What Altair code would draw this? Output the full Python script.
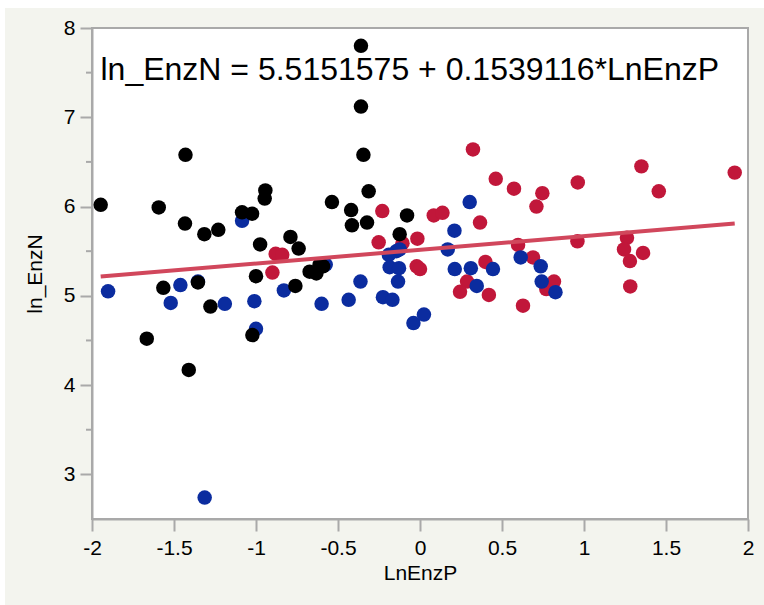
import altair as alt
import pandas as pd

# ---- data ----
black_x = [-0.36, -0.36, -1.43, -0.345, -0.943, -0.947, -0.313, -1.947, -1.593, -0.537,
           -0.42, -1.085, -1.024, -0.079, -1.433, -0.415, -0.323, -1.315, -1.23, -0.124,
           -0.79, -0.74, -0.975, -1.565, -1.354, -1.278, -1.022, -1.666, -1.41, -1.0,
           -0.76, -0.673, -0.632, -0.612, -0.591]
black_y = [7.80, 7.12, 6.58, 6.58, 6.18, 6.09, 6.17, 6.02, 5.99, 6.05,
           5.96, 5.935, 5.92, 5.90, 5.81, 5.79, 5.82, 5.69, 5.74, 5.69,
           5.66, 5.53, 5.575, 5.09, 5.15, 4.88, 4.56, 4.52, 4.17, 5.22,
           5.11, 5.27, 5.25, 5.35, 5.33]

blue_x = [-1.902, -1.461, -1.52, -1.354, -1.19, -1.01, -1.0, -1.085, -1.313, -0.83,
          -0.575, -0.60, -0.435, -0.363, -0.226, -0.168, -0.19, -0.144, -0.124, -0.185,
          -0.128, -0.134, -0.04, 0.024, 0.303, 0.21, 0.169, 0.212, 0.31, 0.445,
          0.346, 0.614, 0.736, 0.742, 0.826]
blue_y = [5.05, 5.12, 4.92, 5.16, 4.91, 4.94, 4.63, 5.84, 2.74, 5.06,
          5.35, 4.91, 4.955, 5.16, 4.985, 4.955, 5.46, 5.50, 5.52, 5.32,
          5.31, 5.16, 4.695, 4.79, 6.05, 5.73, 5.52, 5.30, 5.31, 5.30,
          5.11, 5.43, 5.33, 5.16, 5.04]

red_x = [-0.23, -0.252, -0.107, -0.016, 0.084, 0.137, 0.366, 0.323, 0.462, 0.573,
         0.746, 0.71, 0.962, 1.35, 1.456, 1.919, 0.96, 0.598, 0.689, 1.262,
         1.244, 1.36, 1.28, 1.282, 0.399, 0.287, 0.244, 0.42, 0.628, 0.817,
         0.77, -0.02, 0.0, -0.90, -0.88, -0.84]
red_y = [5.95, 5.60, 5.59, 5.64, 5.90, 5.93, 5.82, 6.64, 6.31, 6.20,
         6.15, 6.00, 6.27, 6.45, 6.17, 6.38, 5.61, 5.57, 5.43, 5.65,
         5.52, 5.48, 5.39, 5.105, 5.38, 5.16, 5.045, 5.01, 4.89, 5.16,
         5.075, 5.33, 5.30, 5.26, 5.47, 5.46]

intercept = 5.5151575
slope = 0.1539116
fit_x = [-1.947, 1.919]
equation = "ln_EnzN = 5.5151575 + 0.1539116*LnEnzP"

x_ticks = [-2, -1.5, -1, -0.5, 0, 0.5, 1, 1.5, 2]
y_ticks = [3, 4, 5, 6, 7, 8]
y_minor = [3.5, 4.5, 5.5, 6.5, 7.5]

groups = ["red", "blue", "black"]
group_colors = ["#c1173a", "#0b2c9f", "#000000"]

rows = []
for g, xs, ys in [("red", red_x, red_y), ("blue", blue_x, blue_y), ("black", black_x, black_y)]:
    for a, b in zip(xs, ys):
        rows.append({"LnEnzP": a, "ln_EnzN": b, "grp": g})
df = pd.DataFrame(rows)
df_fit = pd.DataFrame({"LnEnzP": fit_x, "ln_EnzN": [intercept + slope * v for v in fit_x]})
df_minor = pd.DataFrame({"m": y_minor})

FONT = "Liberation Sans"
GRAY = "#a9a9a9"
xscale = alt.Scale(domain=[-2, 2], nice=False, zero=False)
yscale = alt.Scale(domain=[2.5, 8], nice=False, zero=False)

xaxis = alt.Axis(values=x_ticks, labelExpr="'' + datum.value", title="LnEnzP",
                 grid=False, tickSize=12, tickWidth=2, tickColor=GRAY,
                 domainColor=GRAY, domainWidth=2, labelFont=FONT, labelFontSize=21,
                 labelColor="black", labelPadding=6, labelFlush=False,
                 titleFont=FONT, titleFontSize=21, titleFontWeight="normal",
                 titleColor="black", titlePadding=4)
yaxis = alt.Axis(values=y_ticks, labelExpr="'' + datum.value", title="ln_EnzN",
                 grid=False, tickSize=12, tickWidth=2, tickColor=GRAY,
                 domainColor=GRAY, domainWidth=2, labelFont=FONT, labelFontSize=21,
                 labelColor="black", labelPadding=5, labelFlush=False,
                 titleFont=FONT, titleFontSize=21, titleFontWeight="normal",
                 titleColor="black", titlePadding=18)

base_dummy = pd.DataFrame({"d": [0]})
white_top = alt.Chart(base_dummy).mark_rect(color="white").encode(
    x=alt.value(-92), x2=alt.value(672), y=alt.value(-28), y2=alt.value(-20))
white_left = alt.Chart(base_dummy).mark_rect(color="white").encode(
    x=alt.value(-92), x2=alt.value(-87), y=alt.value(-28), y2=alt.value(577))

points = alt.Chart(df).mark_circle(size=210, opacity=1).encode(
    x=alt.X("LnEnzP:Q", scale=xscale, axis=xaxis),
    y=alt.Y("ln_EnzN:Q", scale=yscale, axis=yaxis),
    color=alt.Color("grp:N", scale=alt.Scale(domain=groups, range=group_colors), legend=None),
    order=alt.Order("idx:Q"),
).transform_window(idx="row_number()")

fit = alt.Chart(df_fit).mark_line(color="#d1475c", strokeWidth=4).encode(
    x=alt.X("LnEnzP:Q", scale=xscale),
    y=alt.Y("ln_EnzN:Q", scale=yscale),
)

minor = alt.Chart(df_minor).mark_rule(color=GRAY, strokeWidth=2).encode(
    y=alt.Y("m:Q", scale=yscale),
    x=alt.value(-6), x2=alt.value(0),
)

eq = alt.Chart(base_dummy).mark_text(align="left", baseline="alphabetic", fontSize=32,
                                     font=FONT, color="black").encode(
    x=alt.value(8.5), y=alt.value(52), text=alt.value(equation))

chart = alt.layer(white_top, white_left, minor, points, fit, eq).properties(
    width=656, height=491,
    autosize=alt.AutoSizeParams(type="none"),
    padding={"left": 92, "top": 28, "right": 16, "bottom": 86},
    background="#f3f4ee",
).configure_view(fill="white", stroke=GRAY, strokeWidth=2)

chart.save("out.html", embed_options={"renderer": "svg", "actions": False})
